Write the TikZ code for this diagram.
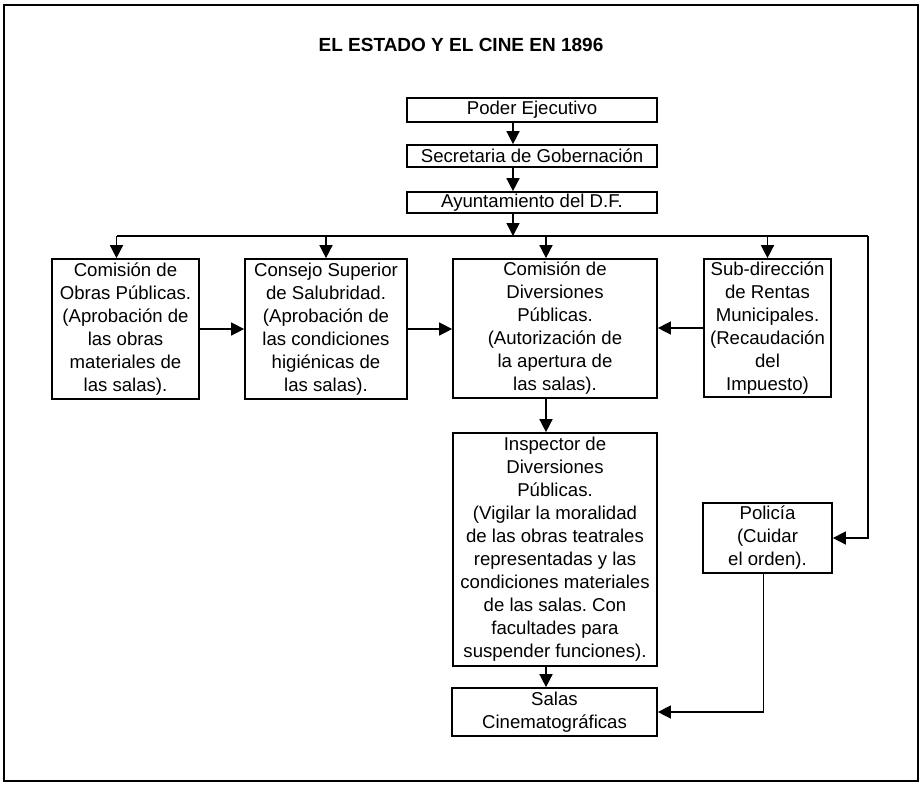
\documentclass[tikz,border=0pt]{standalone}
\usepackage{fontspec}
\setmainfont{Liberation Sans}
\usetikzlibrary{arrows.meta}
\frenchspacing

\begin{document}
\begin{tikzpicture}[
  x=0.5pt, y=-0.5pt,
  box/.style={
    draw,
    line width=0.85pt,
    inner sep=0pt,
    align=center,
    font=\fontsize{9.3}{11.5}\selectfont
  },
  arr/.style={-{Triangle[length=6.5pt, width=6.5pt]}, line width=0.75pt},
  conn/.style={line width=0.75pt}
]

\useasboundingbox (0,0) rectangle (921,784);
\draw[line width=1pt] (4,5) rectangle (918,781);

\node[font=\fontsize{9.5}{11}\selectfont\bfseries] (titulo) at (461,45) {EL ESTADO Y EL CINE EN 1896};

\node[box, minimum width=125pt, minimum height=12pt] (poder) at (532,110) {Poder Ejecutivo};
\node[box, minimum width=125pt, minimum height=11pt] (secretaria) at (532,156) {Secretaria de Gobernación};
\node[box, minimum width=125pt, minimum height=10.5pt] (ayunt) at (532,202.5) {Ayuntamiento del D.F.};

\node[box, minimum width=73.5pt, minimum height=70pt] (obras) at (125.5,329) {Comisión de\\Obras Públicas.\\(Aprobación de\\las obras\\materiales de\\las salas).};
\node[box, minimum width=81pt, minimum height=70pt] (consejo) at (326,329) {Consejo Superior\\de Salubridad.\\(Aprobación de\\las condiciones\\higiénicas de\\las salas).};
\node[box, minimum width=102pt, minimum height=69.5pt] (diversiones) at (555,328.5) {Comisión de\\Diversiones\\Públicas.\\(Autorización de\\la apertura de\\las salas).};
\node[box, minimum width=63.5pt, minimum height=69pt] (subdir) at (767.5,328) {Sub-dirección\\de Rentas\\Municipales.\\(Recaudación\\del\\Impuesto)};

\node[box, minimum width=102pt, minimum height=116.5pt] (inspector) at (555,549.5) {Inspector de\\Diversiones\\Públicas.\\(Vigilar la moralidad\\de las obras teatrales\\representadas y las\\condiciones materiales\\de las salas. Con\\facultades para\\suspender funciones).};
\node[box, minimum width=64.5pt, minimum height=35pt] (policia) at (767.5,538) {Policía\\(Cuidar\\el orden).};
\node[box, minimum width=102.5pt, minimum height=24pt] (salas) at (554.5,712) {Salas\\Cinematográficas};

\coordinate (bus) at (513,236);
\coordinate (eje) at (546,236);
\coordinate (esquina) at (868,236);

\draw[arr] (poder.south -| bus) -- (secretaria.north -| bus);
\draw[arr] (secretaria.south -| bus) -- (ayunt.north -| bus);
\draw[arr] (ayunt.south -| bus) -- (bus);
\draw[conn] ([xshift=-4.5pt]obras.north |- bus) -- (esquina);
\draw[arr] (esquina) |- (policia.east);
\draw[arr] ([xshift=-4.5pt]obras.north |- bus) -- ([xshift=-4.5pt]obras.north);
\draw[arr] (consejo.north |- bus) -- (consejo.north);
\draw[arr] (eje) -- (diversiones.north -| eje);
\draw[arr] (subdir.north |- bus) -- (subdir.north);
\draw[arr] (obras.east) -- (obras.east -| consejo.west);
\draw[arr] (consejo.east) -- (consejo.east -| diversiones.west);
\draw[arr] (subdir.west) -- (subdir.west -| diversiones.east);
\draw[arr] (diversiones.south -| eje) -- (inspector.north -| eje);
\draw[arr] (inspector.south -| eje) -- (salas.north -| eje);
\draw[arr] ([xshift=-2pt]policia.south) |- (salas.east);

\end{tikzpicture}
\end{document}
